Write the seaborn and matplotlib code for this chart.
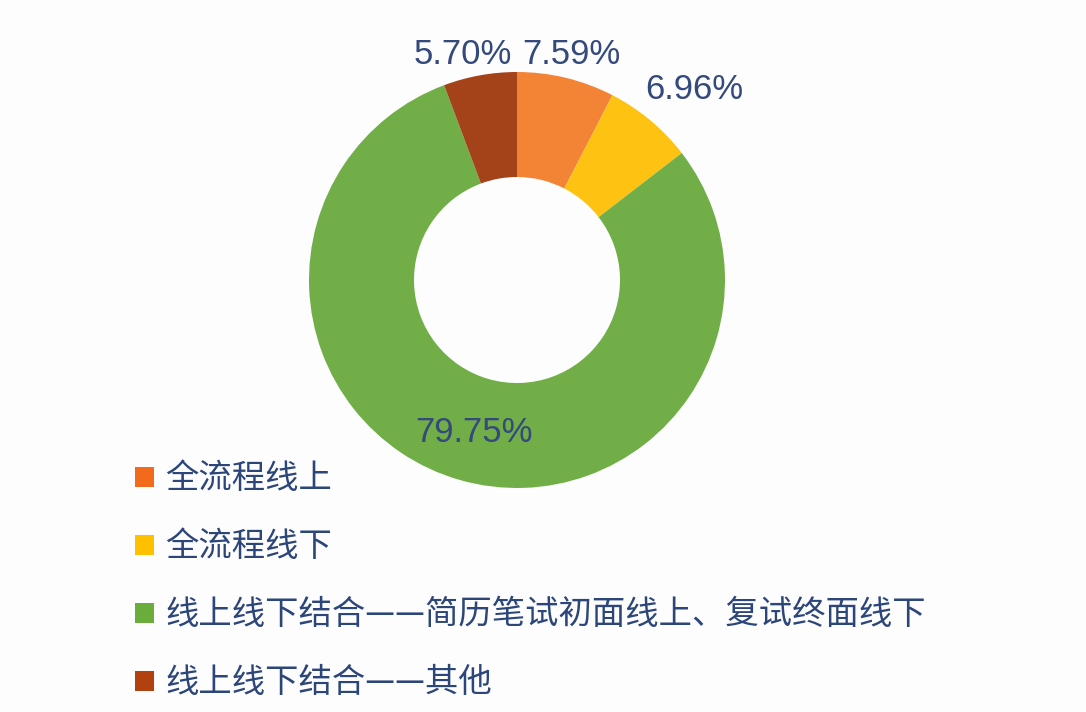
import numpy as np
import seaborn as sns
import matplotlib.pyplot as plt
from matplotlib.patches import Patch

categories = ["全流程线上", "全流程线下", "线上线下结合——简历笔试初面线上、复试终面线下", "线上线下结合——其他"]
shares = [7.59, 6.96, 79.75, 5.70]
pct_labels = ["7.59%", "6.96%", "79.75%", "5.70%"]
colors = ["#F38436", "#FEC213", "#72AE48", "#A4431A"]
legend_colors = ["#F26B1D", "#FFC000", "#6BAD3C", "#B1420F"]

sns.set_theme(style="white")
plt.rcParams["font.family"] = ["Noto Sans CJK SC", "DejaVu Sans"]

W, H = 1086, 712
fig = plt.figure(figsize=(W / 100, H / 100), dpi=100, facecolor="#FDFDFE")
ax = fig.add_axes([0, 0, 1, 1])
ax.set_facecolor("#FDFDFE")

cx, cy, R = 517, H - 280, 208
wedges, _ = ax.pie(shares, colors=colors, startangle=90, counterclock=False,
                   center=(cx, cy), radius=R, frame=True,
                   wedgeprops=dict(width=105, linewidth=0))
ax.set_xlim(0, W)
ax.set_ylim(0, H)
ax.set_aspect("equal")
ax.axis("off")

# label radius (in units of R) and small angular nudges
label_dist = [1.115, 1.25, 0.76, 1.115]
angle_nudge = [0, 3, 0, -3.3]
text_color = "#34497C"
for w, lab, d, nd in zip(wedges, pct_labels, label_dist, angle_nudge):
    mid = np.deg2rad((w.theta1 + w.theta2) / 2 - nd)
    x = cx + d * R * np.cos(mid)
    y = cy + d * R * np.sin(mid)
    ax.text(x, y, lab, ha="center", va="center", fontsize=25,
            color=text_color, family=["Liberation Sans", "DejaVu Sans"])

handles = [Patch(facecolor=c, edgecolor="none") for c in legend_colors]
leg = fig.legend(handles, categories, loc="upper left",
                 bbox_to_anchor=(122 / W, 1 - 448 / H), frameon=False,
                 fontsize=24, handlelength=0.55, handleheight=0.55,
                 handletextpad=0.35, labelspacing=0.99, borderaxespad=0,
                 prop=dict(size=24, weight="medium"))
for t in leg.get_texts():
    t.set_color("#2C467A")

fig.savefig("out.png", dpi=100, facecolor=fig.get_facecolor())
